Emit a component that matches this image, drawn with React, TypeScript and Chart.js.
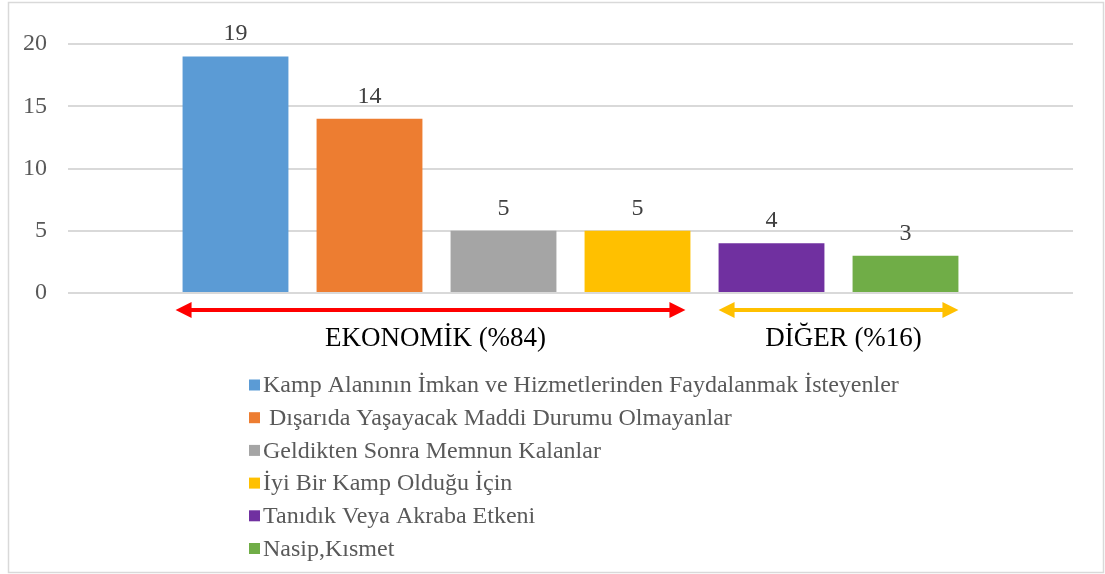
import React, { useEffect, useRef } from 'react';
import { Chart, registerables } from 'chart.js';

Chart.register(...registerables);

// ---- data ----
const seriesNames = [
  'Kamp Alanının İmkan ve Hizmetlerinden Faydalanmak İsteyenler',
  ' Dışarıda Yaşayacak Maddi Durumu Olmayanlar',
  'Geldikten Sonra Memnun Kalanlar',
  'İyi Bir Kamp Olduğu İçin',
  'Tanıdık Veya Akraba Etkeni',
  'Nasip,Kısmet',
];
const seriesValues = [19, 14, 5, 5, 4, 3];
const seriesColors = ['#5b9bd5', '#ed7d31', '#a5a5a5', '#ffc000', '#7030a0', '#70ad47'];
const yTickValues = [0, 5, 10, 15, 20];

const groupLabels = ['EKONOMİK (%84)', 'DİĞER (%16)'];
const groupFirst = [0, 4];
const groupLast = [3, 5];
const groupColors = ['#ff0000', '#ffc000'];

const FONT = "'Liberation Serif', 'Times New Roman', serif";

function drawArrow(ctx: CanvasRenderingContext2D, x1: number, x2: number, y: number, color: string) {
  const hl = 16;
  const hw = 8;
  ctx.save();
  ctx.strokeStyle = color;
  ctx.fillStyle = color;
  ctx.lineWidth = 4;
  ctx.beginPath();
  ctx.moveTo(x1 + hl - 2, y);
  ctx.lineTo(x2 - hl + 2, y);
  ctx.stroke();
  ctx.beginPath();
  ctx.moveTo(x1, y);
  ctx.lineTo(x1 + hl, y - hw);
  ctx.lineTo(x1 + hl, y + hw);
  ctx.closePath();
  ctx.fill();
  ctx.beginPath();
  ctx.moveTo(x2, y);
  ctx.lineTo(x2 - hl, y - hw);
  ctx.lineTo(x2 - hl, y + hw);
  ctx.closePath();
  ctx.fill();
  ctx.restore();
}

const overlayPlugin = {
  id: 'overlay',
  beforeDraw(chart: any) {
    const ctx: CanvasRenderingContext2D = chart.ctx;
    ctx.save();
    ctx.fillStyle = '#ffffff';
    ctx.fillRect(0, 0, chart.width, chart.height);
    ctx.strokeStyle = '#d9d9d9';
    ctx.lineWidth = 1.5;
    ctx.strokeRect(8.5, 2.5, chart.width - 10, chart.height - 4);
    ctx.restore();
  },
  afterDatasetsDraw(chart: any) {
    const ctx: CanvasRenderingContext2D = chart.ctx;
    const bars = chart.data.datasets.map((_: any, i: number) => chart.getDatasetMeta(i).data[0]);
    ctx.save();
    // value labels
    ctx.font = `24px ${FONT}`;
    ctx.fillStyle = '#404040';
    ctx.textAlign = 'center';
    ctx.textBaseline = 'alphabetic';
    bars.forEach((b: any, i: number) => {
      ctx.fillText(String(chart.data.datasets[i].data[0]), b.x, b.y - 16);
    });
    // group arrows + labels
    const arrowY = chart.chartArea.bottom + 17;
    groupLabels.forEach((lab, g) => {
      const a = bars[groupFirst[g]];
      const z = bars[groupLast[g]];
      const x1 = a.x - a.width / 2 - (g === 0 ? 7 : 0);
      const x2 = z.x + z.width / 2 - (g === 0 ? 5 : 0);
      drawArrow(ctx, x1, x2, arrowY, groupColors[g]);
      ctx.font = `27px ${FONT}`;
      ctx.fillStyle = '#000000';
      ctx.textAlign = 'center';
      ctx.textBaseline = 'middle';
      ctx.fillText(lab, (x1 + x2) / 2 + 5, arrowY + 29);
    });
    // legend (vertical list)
    ctx.font = `24px ${FONT}`;
    ctx.textAlign = 'left';
    ctx.textBaseline = 'middle';
    chart.data.datasets.forEach((ds: any, i: number) => {
      const cy = 385 + i * 32.7;
      ctx.fillStyle = ds.backgroundColor;
      ctx.fillRect(249, cy - 5.5, 11, 11);
      ctx.fillStyle = '#595959';
      ctx.fillText(ds.label, 263, cy + 1);
    });
    ctx.restore();
  },
};

export default function App() {
  const ref = useRef<HTMLCanvasElement | null>(null);
  useEffect(() => {
    document.body.style.margin = '0';
    const canvas = ref.current;
    if (!canvas) return;
    const chart = new Chart(canvas, {
      type: 'bar',
      data: {
        labels: [''],
        datasets: seriesNames.map((name, i) => ({
          label: name,
          data: [seriesValues[i]],
          backgroundColor: seriesColors[i],
          borderWidth: 0,
          categoryPercentage: 0.8,
          barPercentage: 0.79,
        })),
      },
      options: {
        animation: false,
        responsive: false,
        maintainAspectRatio: false,
        layout: { padding: { left: 0, right: 32, top: 44, bottom: 281 } },
        plugins: {
          legend: { display: false },
          tooltip: { enabled: false },
          title: { display: false },
        },
        scales: {
          x: { display: false },
          y: {
            min: 0,
            max: 20,
            afterFit: (s: any) => {
              s.width = 68;
            },
            afterBuildTicks: (s: any) => {
              s.ticks = yTickValues.map((v) => ({ value: v }));
            },
            border: { display: false },
            grid: { color: '#d9d9d9', lineWidth: 2, drawTicks: false },
            ticks: {
              padding: 21,
              color: '#595959',
              font: { family: FONT, size: 24 },
            },
          },
        },
      },
      plugins: [overlayPlugin],
    });
    return () => chart.destroy();
  }, []);
  return (
    <div style={{ width: 1105, height: 574 }}>
      <canvas ref={ref} width={1105} height={574} style={{ display: 'block' }} />
    </div>
  );
}
